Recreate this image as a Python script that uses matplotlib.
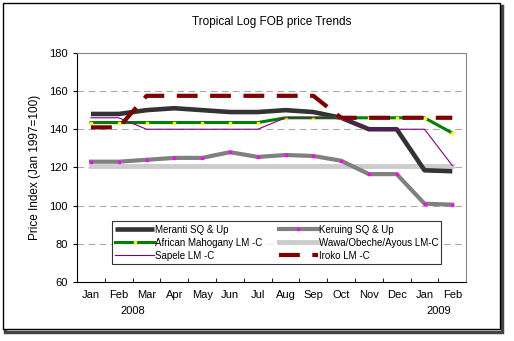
import matplotlib
matplotlib.use("Agg")
from matplotlib import pyplot as plt
from matplotlib.patches import Rectangle
import numpy as np

plt.rcParams['font.family'] = ['Liberation Sans', 'DejaVu Sans']

months = ["Jan", "Feb", "Mar", "Apr", "May", "Jun", "Jul", "Aug", "Sep", "Oct", "Nov", "Dec", "Jan", "Feb"]

meranti = [148, 148, 150, 151, 150, 149, 149, 150, 149, 146, 140, 140, 118.5, 118]
keruing = [123, 123, 124, 125, 125, 128, 125.5, 126.5, 126, 123.5, 116.5, 116.5, 101, 100.5]
mahogany = [143.5, 143.5, 143.5, 143.5, 143.5, 143.5, 143.5, 146, 146, 146, 146, 146, 146, 138]
wawa = [121] * 14
sapele = [146, 146, 140, 140, 140, 140, 140, 146, 146, 146, 140, 140, 140, 121]
iroko = [141, 141, 157.5, 157.5, 157.5, 157.5, 157.5, 157.5, 157.5, 146, 146, 146, 146, 146]

x = np.arange(len(months))

fig = plt.figure(figsize=(5.14, 3.41), dpi=100)

# outer frame (drawn behind the axes)
fig.patches.append(Rectangle((5 / 514, 1 - 332 / 341), 497 / 514, 326 / 341,
                             transform=fig.transFigure, fill=False, ec="#444444", lw=2.5, zorder=-3))
fig.patches.append(Rectangle((3 / 514, 1 - 329 / 341), 497 / 514, 326 / 341,
                             transform=fig.transFigure, fill=True, fc="white", ec="black", lw=1, zorder=-2))

ax = fig.add_axes([0.150, 0.173, 0.757, 0.672])
ax.set_facecolor("none")

# horizontal grid
for v in [80, 100, 120, 140, 160]:
    ax.axhline(v, color="#aaaaaa", lw=0.8, ls=(0, (6, 4)), zorder=0)

l_mer, = ax.plot(x, meranti, color="#333333", lw=3.3, solid_capstyle="butt", zorder=3)
l_ker, = ax.plot(x, keruing, color="#808080", lw=3, marker="s", ms=2, mfc="#ff00ff", mec="#ff00ff", zorder=3)
l_mah, = ax.plot(x, mahogany, color="#008000", lw=2.2, marker="s", ms=2, mfc="#ffff00", mec="#ffff00", zorder=4)
l_waw, = ax.plot(x, wawa, color="#cccccc", lw=3.5, zorder=2)
l_sap, = ax.plot(x, sapele, color="#800080", lw=0.8, zorder=4)
l_iro, = ax.plot(x, iroko, color="#800000", lw=3, ls=(0, (5, 3)), zorder=5)

ax.set_xlim(-0.5, 13.5)
ax.set_ylim(60, 180)
ax.set_yticks([60, 80, 100, 120, 140, 160, 180])
ax.set_xticks(x)
ax.set_xticklabels(months, fontsize=8)
ax.set_xticks(np.arange(-0.5, 14, 1), minor=True)
ax.tick_params(axis="x", which="major", length=0, pad=6)
ax.tick_params(axis="x", which="minor", length=3, direction="in")
ax.tick_params(axis="y", length=3, labelsize=8)

ax.spines["top"].set_color("#888888")
ax.spines["right"].set_color("#888888")
ax.spines["left"].set_color("black")
ax.spines["bottom"].set_color("black")

ax.set_ylabel("Price Index (Jan 1997=100)", fontsize=8.5, labelpad=6)
ax.set_title("Tropical Log FOB price Trends", fontsize=8.5, pad=20)

ax.text(1.5, -0.105, "2008", transform=ax.get_xaxis_transform(), ha="center", va="top", fontsize=8)
ax.text(12.5, -0.105, "2009", transform=ax.get_xaxis_transform(), ha="center", va="top", fontsize=8)

leg = ax.legend([l_mer, l_mah, l_sap, l_ker, l_waw, l_iro],
                ["Meranti SQ & Up", "African Mahogany LM -C", "Sapele LM -C",
                 "Keruing SQ & Up", "Wawa/Obeche/Ayous LM-C", "Iroko LM -C"],
                ncol=2, loc="lower left", bbox_to_anchor=(0.077, 0.057, 0.872, 0.2),
                mode="expand", fontsize=7, frameon=True, fancybox=False,
                handlelength=4, handletextpad=0.1, borderpad=0.35, labelspacing=0.3,
                columnspacing=1.5, markerscale=1)
leg.get_frame().set_edgecolor("black")
leg.get_frame().set_linewidth(0.8)

fig.savefig("out.png", dpi=100)
